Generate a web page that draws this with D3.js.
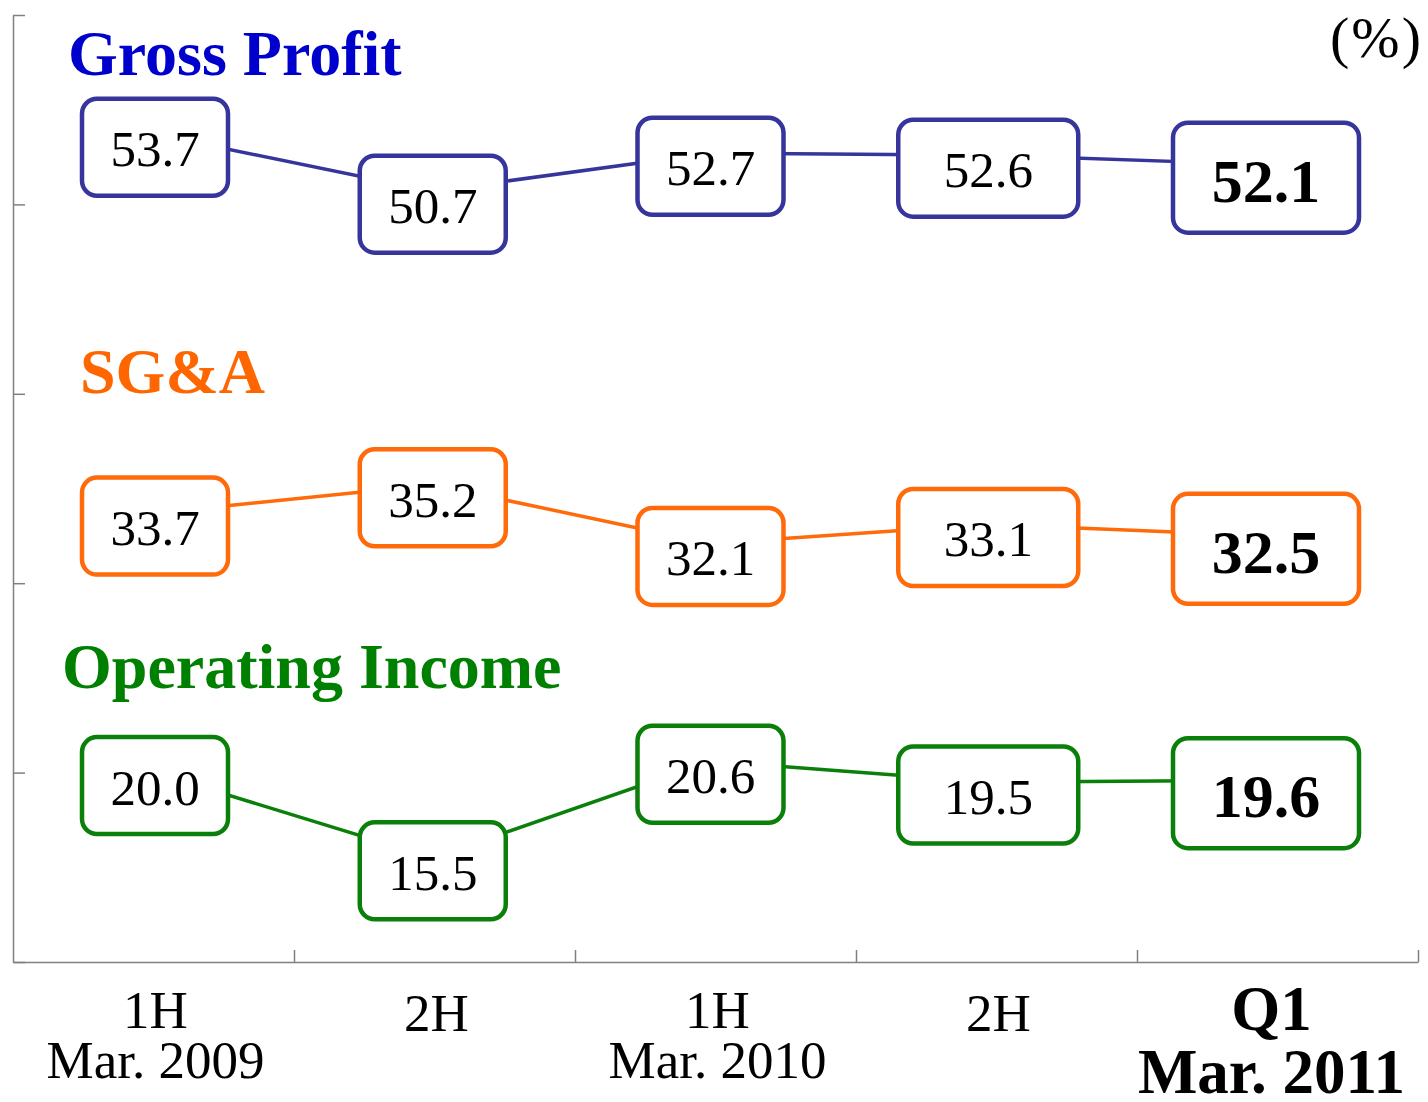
<!DOCTYPE html>
<html>
<head>
<meta charset="utf-8">
<script src="https://cdn.jsdelivr.net/npm/d3@7"></script>
<style>
  body { margin: 0; background: #fff; }
  svg { display: block; font-family: "Liberation Serif", "Times New Roman", serif; }
</style>
</head>
<body>
<svg id="chart" width="1428" height="1102"></svg>
<script>
// data
const periods = ["1H Mar. 2009", "2H Mar. 2009", "1H Mar. 2010", "2H Mar. 2010", "Q1 Mar. 2011"]
const periodLines = [["1H", "Mar. 2009"], ["2H"], ["1H", "Mar. 2010"], ["2H"], ["Q1", "Mar. 2011"]]
const grossProfit = [53.7, 50.7, 52.7, 52.6, 52.1]
const sga = [33.7, 35.2, 32.1, 33.1, 32.5]
const opIncome = [20.0, 15.5, 20.6, 19.5, 19.6]
const yTicks = [10, 20, 30, 40, 50, 60]

const series = [
  { name: "Gross Profit", values: grossProfit, line: "#35359b", title: "#0000cc", tx: 68, ty: 75 },
  { name: "SG&A", values: sga, line: "#ff6a0a", title: "#ff6600", tx: 80, ty: 393 },
  { name: "Operating Income", values: opIncome, line: "#0a800a", title: "#008000", tx: 62, ty: 688 }
]

const svg = d3.select("#chart")
const plotLeft = 13, plotRight = 1418, plotTop = 15, plotBottom = 962

// band scale for category labels, point scale for the marks
const x = d3.scaleBand().domain(periods).range([plotLeft, plotRight])
const xp = d3.scalePoint().domain(periods).range([155, 1266])
const y = d3.scaleLinear().domain([10, 60]).range([plotBottom, plotTop])
const edge = d3.scaleLinear().domain([0, 5]).range([plotLeft, plotRight])

// box sizes per column (last column is wider, bold)
const boxW = [146, 146, 146, 180, 186]
const boxH = (i) => i === 4 ? 110 : 97
const boxShift = 13

// axes
svg.append("g")
  .attr("transform", `translate(${plotLeft},0)`)
  .call(d3.axisRight(y).tickValues(yTicks).tickSize(12).tickSizeOuter(0).tickFormat(""))
svg.append("g")
  .attr("transform", `translate(0,${plotBottom})`)
  .call(d3.axisTop(edge).tickValues([1, 2, 3, 4, 5]).tickSize(12).tickSizeOuter(0).tickFormat(""))
svg.selectAll(".domain, .tick line").attr("stroke", "#808080").attr("stroke-width", 1.5)

// x labels
periodLines.forEach((lines, i) => {
  const bold = i === 4
  const cx = x(periods[i]) + x.bandwidth() / 2 + (bold ? -6 : 2)
  const size = bold ? 63 : 53
  if (lines.length === 1) {
    svg.append("text").attr("x", cx).attr("y", 1031)
      .attr("text-anchor", "middle").attr("font-size", size).text(lines[0])
  } else {
    svg.append("text").attr("x", cx).attr("y", bold ? 1030 : 1028)
      .attr("text-anchor", "middle").attr("font-size", size)
      .attr("font-weight", bold ? "bold" : "normal").text(lines[0])
    svg.append("text").attr("x", cx).attr("y", bold ? 1093 : 1078)
      .attr("text-anchor", "middle").attr("font-size", size)
      .attr("font-weight", bold ? "bold" : "normal").text(lines[1])
  }
})

// unit
svg.append("text").attr("x", 1423).attr("y", 57).attr("text-anchor", "end")
  .attr("font-size", 58).attr("letter-spacing", 2).text("(%)")

const line = d3.line()
  .x((d, i) => xp(periods[i]))
  .y(d => y(d))

series.forEach(s => {
  svg.append("text")
    .attr("x", s.tx).attr("y", s.ty)
    .attr("font-size", 64).attr("font-weight", "bold")
    .attr("fill", s.title)
    .text(s.name)

  svg.append("path")
    .datum(s.values)
    .attr("d", line)
    .attr("fill", "none")
    .attr("stroke", s.line)
    .attr("stroke-width", 3.5)

  const g = svg.selectAll(null).data(s.values).enter().append("g")
    .attr("transform", (d, i) => `translate(${xp(periods[i])},${y(d) + boxShift})`)

  g.append("rect")
    .attr("x", (d, i) => -boxW[i] / 2)
    .attr("y", (d, i) => -boxH(i) / 2)
    .attr("width", (d, i) => boxW[i])
    .attr("height", (d, i) => boxH(i))
    .attr("rx", 15)
    .attr("fill", "#fff")
    .attr("stroke", s.line)
    .attr("stroke-width", 4.5)

  g.append("text")
    .attr("text-anchor", "middle")
    .attr("y", (d, i) => i === 4 ? 24 : 19)
    .attr("font-size", (d, i) => i === 4 ? 62 : 51)
    .attr("font-weight", (d, i) => i === 4 ? "bold" : "normal")
    .text(d => d3.format(".1f")(d))
})
</script>
</body>
</html>
